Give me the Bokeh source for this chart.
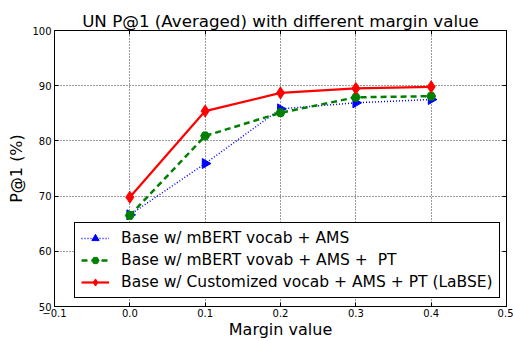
import math
from bokeh.plotting import figure
from bokeh.models import LinearAxis, Legend, LegendItem, FixedTicker, Range1d
from bokeh.embed import file_html
from bokeh.resources import INLINE

margins = [0.0, 0.1, 0.2, 0.3, 0.4]
mbert_ams = [66.6, 75.9, 85.8, 86.9, 87.5]
mbert_ams_pt = [66.5, 80.9, 85.1, 87.9, 88.1]
labse = [69.8, 85.4, 88.7, 89.5, 89.8]

x_ticks = [-0.1, 0.0, 0.1, 0.2, 0.3, 0.4, 0.5]
x_tick_labels = ["\u22120.1", "0.0", "0.1", "0.2", "0.3", "0.4", "0.5"]
y_ticks = [50, 60, 70, 80, 90, 100]

FONT = "DejaVu Sans"

p = figure(width=513, height=341, output_backend="svg", toolbar_location=None,
           x_range=Range1d(-0.1, 0.5), y_range=Range1d(50, 100),
           min_border_left=54, min_border_right=7, min_border_top=30, min_border_bottom=32,
           title="UN P@1 (Averaged) with different margin value")
p.title.text_font = FONT
p.title.text_font_size = "16.7px"
p.title.text_font_style = "normal"
p.title.text_color = "black"
p.title.align = "center"
p.title.offset = 5
p.title.standoff = 0
p.outline_line_color = "black"
p.outline_line_width = 1
p.outline_line_alpha = 1

p.xaxis.axis_label = "Margin value"
p.yaxis.axis_label = "P@1 (%)"
p.xaxis.ticker = FixedTicker(ticks=x_ticks)
p.xaxis.major_label_overrides = {t: l for t, l in zip(x_ticks, x_tick_labels)}
p.yaxis.ticker = FixedTicker(ticks=y_ticks)

for ax in [p.xaxis[0], p.yaxis[0]]:
    ax.axis_label_text_font = FONT
    ax.axis_label_text_font_size = "16px"
    ax.axis_label_text_font_style = "normal"
    ax.axis_label_text_color = "black"
    ax.major_label_text_font = FONT
    ax.major_label_text_font_size = "10px"
    ax.major_label_text_color = "black"
    ax.major_tick_in = 4
    ax.major_tick_out = 0
    ax.minor_tick_in = 0
    ax.minor_tick_out = 0
    ax.axis_line_color = "black"
    ax.major_tick_line_color = "black"
p.xaxis.major_label_standoff = 2
p.xaxis.axis_label_standoff = 0
p.yaxis.major_label_standoff = 3
p.yaxis.axis_label_standoff = 3

for loc, tick in [("right", y_ticks), ("above", x_ticks)]:
    a = LinearAxis(ticker=FixedTicker(ticks=tick),
                   major_label_overrides={t: "" for t in tick},
                   major_tick_in=4, major_tick_out=0, minor_tick_in=0, minor_tick_out=0,
                   major_label_standoff=0, axis_line_color="black",
                   major_tick_line_color="black")
    p.add_layout(a, loc)

p.grid.grid_line_color = "black"
p.grid.grid_line_dash = "1 2"
p.grid.grid_line_width = 0.8
p.xgrid.ticker = FixedTicker(ticks=x_ticks)
p.ygrid.ticker = FixedTicker(ticks=y_ticks)

l1 = p.line(margins, mbert_ams, line_color="#0000ff", line_width=1.5, line_dash="1 2")
s1 = p.scatter(margins, mbert_ams, marker="triangle", angle=-math.pi / 2, size=10,
               fill_color="#0000ff", line_color="#0000ff")
l2 = p.line(margins, mbert_ams_pt, line_color="#008000", line_width=2.5, line_dash="6 4")
s2 = p.scatter(margins, mbert_ams_pt, marker="hex", size=9,
               fill_color="#008000", line_color="#008000")
l3 = p.line(margins, labse, line_color="#ff0000", line_width=2.2)
s3 = p.scatter(margins, labse, marker="diamond", size=12,
               fill_color="#ff0000", line_color="#ff0000")

legend = Legend(items=[
    LegendItem(label="Base w/ mBERT vocab + AMS", renderers=[l1, s1]),
    LegendItem(label="Base w/ mBERT vovab + AMS +  PT", renderers=[l2, s2]),
    LegendItem(label="Base w/ Customized vocab + AMS + PT (LaBSE)", renderers=[l3, s3]),
], location=(20, 8))
legend.label_text_font = FONT
legend.label_text_font_size = "15.5px"
legend.label_text_color = "black"
legend.border_line_color = "black"
legend.border_line_width = 1
legend.border_line_alpha = 1
legend.background_fill_alpha = 1
legend.padding = 6
legend.spacing = 4
legend.glyph_width = 28
legend.glyph_height = 18
legend.label_height = 18
legend.label_standoff = 12
legend.margin = 0
p.add_layout(legend, "center")

open("out.html", "w").write(file_html(p, INLINE))
